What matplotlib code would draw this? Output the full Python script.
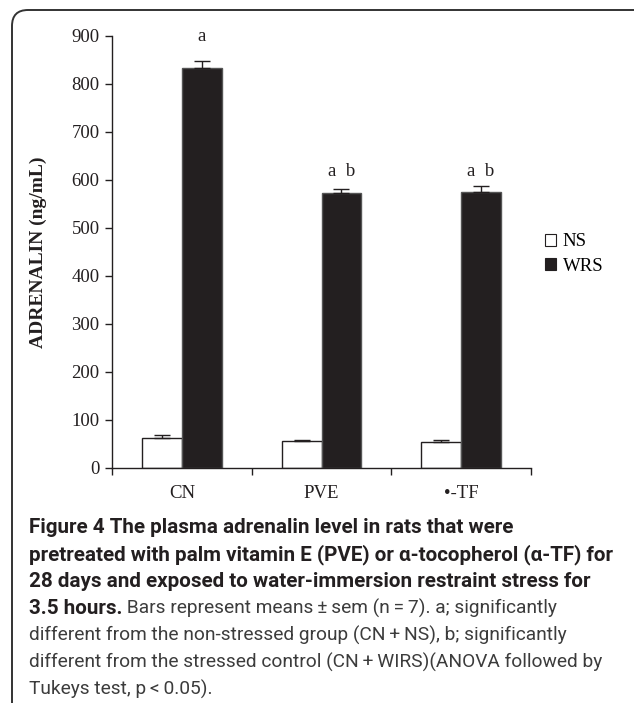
import numpy as np
import matplotlib
matplotlib.use("Agg")
import matplotlib.pyplot as plt
from matplotlib.patches import FancyBboxPatch, Patch
from matplotlib.transforms import IdentityTransform

grupos = ["CN", "PVE", "\u2022-TF"]
ns_media = [63, 57, 55]
ns_erro = [6, 2, 4]
wrs_media = [833, 573, 575]
wrs_erro = [15, 8, 13]
letras = ["a", "a  b", "a  b"]
letras_y = [898, 617, 617]
yticks = [0, 100, 200, 300, 400, 500, 600, 700, 800, 900]

legenda_txt = ["NS", "WRS"]

linhas_negrito = [
    "Figure 4 The plasma adrenalin level in rats that were",
    "pretreated with palm vitamin E (PVE) or \u03b1-tocopherol (\u03b1-TF) for",
    "28 days and exposed to water-immersion restraint stress for",
    "3.5 hours.",
]
linhas_normal = [
    " Bars represent means\u2009\u00b1\u2009sem (n\u2009=\u20097). a; significantly",
    "different from the non-stressed group (CN\u2009+\u2009NS), b; significantly",
    "different from the stressed control (CN\u2009+\u2009WIRS)(ANOVA followed by",
    "Tukeys test, p\u2009<\u20090.05).",
]

W, H = 634, 703
escuro = "#231f20"
serifa = "Liberation Serif"
sans = ["Roboto", "DejaVu Sans"]
tam_serifa = 13.5

fig = plt.figure(figsize=(W / 100, H / 100), dpi=100)

# moldura arredondada
moldura = FancyBboxPatch((12, -40), W + 40, H - 10 + 40,
                         boxstyle="round,pad=0,rounding_size=16",
                         transform=IdentityTransform(), fill=False,
                         edgecolor="#333333", linewidth=1.4)
fig.patches.append(moldura)

ax = fig.add_axes([112 / W, 1 - 468 / H, (531 - 112) / W, (468 - 36) / H])
x = np.arange(len(grupos))
larg = 40 / 140

ax.bar(x - larg / 2, ns_media, larg, color="white", edgecolor=escuro, linewidth=1.0)
ax.bar(x + larg / 2, wrs_media, larg, color=escuro, edgecolor="#555555", linewidth=1.0)
ax.errorbar(x - larg / 2, ns_media, yerr=[[0] * 3, ns_erro], fmt="none",
            ecolor=escuro, elinewidth=1, capsize=6, capthick=1)
ax.errorbar(x + larg / 2, wrs_media, yerr=[[0] * 3, wrs_erro], fmt="none",
            ecolor=escuro, elinewidth=1, capsize=6, capthick=1)

for xi, t, yi in zip(x, letras, letras_y):
    ax.text(xi + larg / 2, yi, t, ha="center", va="center",
            fontfamily=serifa, fontsize=tam_serifa, color=escuro)

ax.set_xlim(-0.5, 2.5)
ax.set_ylim(0, 900)
ax.set_yticks(yticks)
ax.set_xticks(x)
ax.set_xticklabels(grupos)
ax.set_xticks([-0.5, 0.5, 1.5, 2.5], minor=True)
ax.tick_params(axis="x", which="major", length=0, pad=12)
ax.tick_params(axis="x", which="minor", length=5, width=1, color=escuro)
ax.tick_params(axis="y", length=5, width=1, color=escuro, pad=4)
for lab in ax.get_xticklabels() + ax.get_yticklabels():
    lab.set_fontfamily(serifa)
    lab.set_fontsize(tam_serifa)
    lab.set_color(escuro)

for s in ["top", "right"]:
    ax.spines[s].set_visible(False)
for s in ["left", "bottom"]:
    ax.spines[s].set_color(escuro)
    ax.spines[s].set_linewidth(1)

ax.set_ylabel("ADRENALIN (ng/mL)", fontfamily=serifa, fontweight="bold",
              fontsize=14, color=escuro)
ax.yaxis.set_label_coords((47 - 112) / (531 - 112), 0.5)

handles = [Patch(facecolor="white", edgecolor=escuro, linewidth=0.8),
           Patch(facecolor=escuro, edgecolor=escuro, linewidth=0.8)]
ax.legend(handles, legenda_txt, loc="center left",
          bbox_to_anchor=(545 / W, 1 - 254 / H), bbox_transform=fig.transFigure,
          frameon=False, handlelength=0.6, handleheight=0.6, handletextpad=0.35,
          borderpad=0, borderaxespad=0, labelspacing=0.4,
          prop={"family": serifa, "size": tam_serifa})

# legenda da figura (texto abaixo)
render = fig.canvas.get_renderer()


def ajustar(texto, peso, alvo):
    t = fig.text(0, 0, texto, fontfamily=sans, fontweight=peso, fontsize=10)
    w = t.get_window_extent(render).width
    t.remove()
    return 10 * alvo / w


tam_b = ajustar(linhas_negrito[1], "bold", 615 - 29)
tam_n = ajustar(linhas_normal[2], "normal", 602 - 29)

bases = [533, 560, 587, 614, 641, 668, 695]
x0 = 29
for i, linha in enumerate(linhas_negrito):
    t = fig.text(x0 / W, 1 - bases[i] / H, linha, fontfamily=sans,
                 fontweight="bold", fontsize=tam_b, color=escuro, va="baseline")
fim = t.get_window_extent(render).x1
fig.text(fim / W, 1 - bases[3] / H, linhas_normal[0], fontfamily=sans,
         fontsize=tam_n, color="#3c3c3c", va="baseline")
for i, linha in enumerate(linhas_normal[1:]):
    fig.text(x0 / W, 1 - bases[4 + i] / H, linha, fontfamily=sans,
             fontsize=tam_n, color="#3c3c3c", va="baseline")

fig.savefig("out.png", dpi=100)
